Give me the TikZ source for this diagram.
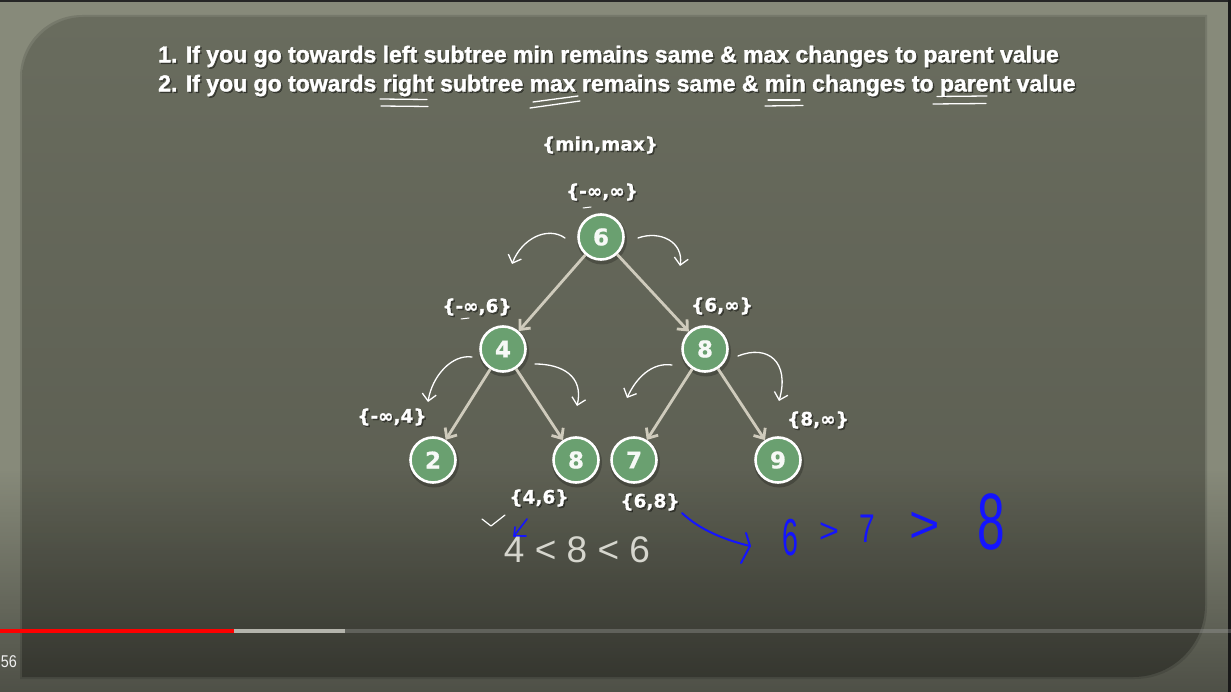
\documentclass[tikz,border=0pt]{standalone}
\usepackage{fontspec}
\setmainfont{Liberation Sans}
\newfontfamily\dejavu{DejaVu Sans}[BoldFeatures={FakeBold=0.8}]
\newfontfamily\heavy{Liberation Sans}[BoldFeatures={FakeBold=1.6}]
\usetikzlibrary{arrows.meta,fadings}
\definecolor{framecol}{HTML}{878A7A}
\definecolor{paneltop}{HTML}{696C5E}
\definecolor{panelbot}{HTML}{595B4F}
\definecolor{nodegreen}{HTML}{6AA070}
\definecolor{edgecol}{HTML}{CFCBBC}
\definecolor{handblue}{HTML}{1414FF}
\definecolor{chalk}{HTML}{D6D6CE}
\definecolor{buffered}{HTML}{B4B4AC}
\tikzfading[name=fadedown, top color=transparent!100, bottom color=transparent!0]
\tikzset{
  tnode/.style={circle, fill=nodegreen, draw=white, line width=2.6pt, minimum size=45pt, inner sep=0pt,
    font=\dejavu\bfseries\fontsize{23}{23}\selectfont, text=white!94!nodegreen},
  tshadow/.style={circle, fill=black, fill opacity=0.22, minimum size=50pt, inner sep=0pt},
  edge/.style={draw=edgecol, line width=2.8pt, -{Straight Barb[length=8pt,width=14pt]}},
  hand/.style={draw=white, line width=1.3pt, line cap=round, line join=round},
  handarrow/.style={hand, -{Straight Barb[length=7pt,width=14pt,line width=1.3pt]}},
  blue/.style={draw=handblue, line width=2pt, line cap=round, line join=round},
  lbl/.style={font=\dejavu\bfseries\fontsize{18.5}{18.5}\selectfont, text=white, inner sep=0pt},
  lblsh/.style={lbl, text=black, text opacity=0.4},
  title/.style={font=\heavy\bfseries\fontsize{23}{23}\selectfont, text=white, inner sep=0pt, anchor=west},
  titlesh/.style={title, text=black, text opacity=0.4},
  bluetext/.style={text=handblue, inner sep=0pt, transform shape},
}
\begin{document}
\begin{tikzpicture}[x=1pt,y=-1pt]
\useasboundingbox (0,0) rectangle (1231,692);
% frame
\fill[framecol] (0,0) rectangle (1231,692);
\fill[black!85] (0,0) rectangle (1231,2.5);
\fill[black!90] (1228,0) rectangle (1231,692);
% panel
\fill[black, opacity=0.12] (20,679) -- (20,300) [rounded corners=62] -- (20,15) -- (400,15) [sharp corners] -- (1207,15) -- (1207,400) [rounded corners=72] -- (1207,679) -- (800,679) [sharp corners] -- cycle;
\shade[top color=paneltop, bottom color=panelbot] (22,677) -- (22,300) [rounded corners=62] -- (22,17) -- (400,17) [sharp corners] -- (1205,17) -- (1205,400) [rounded corners=72] -- (1205,677) -- (800,677) [sharp corners] -- cycle;
% bottom darkening overlay
\fill[black, opacity=0.42, path fading=fadedown] (0,470) rectangle (1228,692);
% progress bar
\fill[black, opacity=0.15] (0,629) rectangle (1231,633);
\fill[white, opacity=0.22] (345,629) rectangle (1231,633);
\fill[buffered] (234,629) rectangle (345,633);
\fill[red] (0,628.5) rectangle (234,633);
\node[text=white!88!gray, font=\fontsize{17}{17}\selectfont, inner sep=0pt, anchor=east, xscale=0.85, transform shape] (time) at (17,662) {56};

% title lines
\node[titlesh] (t1s) at (159.5,58) {1. If you go towards left subtree min remains same \& max changes to parent value};
\node[title] (t1) at (158,56.5) {1. If you go towards left subtree min remains same \& max changes to parent value};
\node[titlesh] (t2s) at (159.5,87) {2. If you go towards right subtree max remains same \& min changes to parent value};
\node[title] (t2) at (158,85.5) {2. If you go towards right subtree max remains same \& min changes to parent value};
% underlines
\draw[hand] (380,99) -- (427,99.5);
\draw[hand] (381,106) -- (428,106.5);
\draw[hand] (533,102) -- (578,96);
\draw[hand] (530,108) -- (580,101);
\draw[hand] (768,100) -- (800,100);
\draw[hand] (765,106) -- (803,105.5);
\draw[hand] (937,96.5) -- (987,96);
\draw[hand] (933,104) -- (986,103.5);

% labels
\node[lblsh] (lmms) at (601.5,146.5) {\{min,max\}};
\node[lbl] (lmm) at (600,145) {\{min,max\}};
\node[lblsh] (l6s) at (603.5,193.5) {\{-∞,∞\}};
\node[lbl] (l6) at (602,192) {\{-∞,∞\}};
\node[lblsh] (l4s) at (478.5,308.5) {\{-∞,6\}};
\node[lbl] (l4) at (477,307) {\{-∞,6\}};
\node[lblsh] (l8s) at (723.5,307.5) {\{6,∞\}};
\node[lbl] (l8) at (722,306) {\{6,∞\}};
\node[lblsh] (l2s) at (393.5,418.5) {\{-∞,4\}};
\node[lbl] (l2) at (392,417) {\{-∞,4\}};
\node[lblsh] (l9s) at (819.5,421.5) {\{8,∞\}};
\node[lbl] (l9) at (818,420) {\{8,∞\}};
\node[lblsh] (l8bs) at (540.5,499.5) {\{4,6\}};
\node[lbl] (l8b) at (539,498) {\{4,6\}};
\node[lblsh] (l7s) at (651.5,503.5) {\{6,8\}};
\node[lbl] (l7) at (650,502) {\{6,8\}};
\draw[hand, line width=1pt] (583,208) -- (591,207);
\draw[hand, line width=1pt] (461,319) -- (469,318);

% tree nodes
\foreach \n/\x/\y in {s6/601/238, s4/503/350, s8/705/350, s2/433/461, s8b/576/461, s7/634/461, s9/778/461}
  \node[tshadow] (\n) at (\x+1,\y+1.5) {};
\node[tnode] (n6) at (601,237) {6};
\node[tnode] (n4) at (503,349) {4};
\node[tnode] (n8) at (705,349) {8};
\node[tnode] (n2) at (433,460) {2};
\node[tnode] (n8b) at (576,460) {8};
\node[tnode] (n7) at (634,460) {7};
\node[tnode] (n9) at (778,460) {9};
% edges
\draw[edge] (n6) -- (n4);
\draw[edge] (n6) -- (n8);
\draw[edge] (n4) -- (n2);
\draw[edge] (n4) -- (n8b);
\draw[edge] (n8) -- (n7);
\draw[edge] (n8) -- (n9);

% handwritten curved arrows
\coordinate (a1s) at (565,238); \coordinate (a1e) at (512,264);
\draw[handarrow] (a1s) .. controls (548,226) and (522,238) .. (a1e);
\coordinate (a2s) at (638,238); \coordinate (a2e) at (680,266);
\draw[handarrow] (a2s) .. controls (660,230) and (684,242) .. (a2e);
\coordinate (a3s) at (472,357); \coordinate (a3e) at (428,402);
\draw[handarrow] (a3s) .. controls (452,354) and (432,376) .. (a3e);
\coordinate (a4s) at (535,364); \coordinate (a4e) at (577,406);
\draw[handarrow] (a4s) .. controls (562,364) and (584,376) .. (a4e);
\coordinate (a5s) at (672,365); \coordinate (a5e) at (627,398);
\draw[handarrow] (a5s) .. controls (652,362) and (636,378) .. (a5e);
\coordinate (a6s) at (738,356); \coordinate (a6e) at (779,401);
\draw[handarrow] (a6s) .. controls (768,344) and (790,362) .. (a6e);

% bottom annotations
\draw[hand, line width=1.2pt] (482,519) -- (491,526) -- (505,515);
\draw[blue, line width=1.6pt] (527,519) -- (514,536);
\draw[blue, line width=1.6pt] (515,527) -- (514,536) -- (526,536);
\node[text=chalk, font=\fontsize{37}{37}\selectfont, inner sep=0pt] (ineq) at (577,550) {4 < 8 < 6};
\coordinate (bas) at (682,513);
\coordinate (bae) at (750,546);
\draw[blue] (bas) .. controls (700,530) and (725,540) .. (bae);
\draw[blue] (746,533) -- (750,546) -- (741,563);
\node[bluetext, font=\fontsize{52}{52}\selectfont, xscale=0.55] (b6) at (790,538) {6};
\node[bluetext, font=\fontsize{34}{34}\selectfont] (bg1) at (829,533) {>};
\node[bluetext, font=\fontsize{40}{40}\selectfont, xscale=0.7] (b7) at (867,529) {7};
\node[bluetext, font=\fontsize{52}{52}\selectfont] (bg2) at (925,527) {>};
\node[bluetext, font=\fontsize{80}{80}\selectfont, xscale=0.62] (b8) at (991,522) {8};
\end{tikzpicture}
\end{document}
